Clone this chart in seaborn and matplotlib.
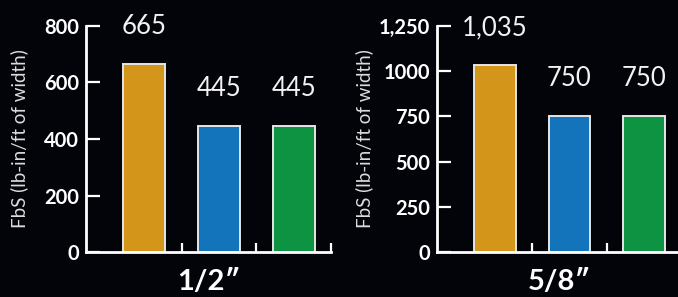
import matplotlib.pyplot as plt
import pandas as pd
import seaborn as sns

# data
products = ['Product A', 'Product B', 'Product C']
bar_colors = ['#D4961A', '#1374BC', '#0E9343']
thickness = ['1/2\u2033', '5/8\u2033']
fbs_half = [665, 445, 445]
fbs_five_eighths = [1035, 750, 750]
yticks_half = [0, 200, 400, 600, 800]
yticks_five_eighths = [0, 250, 500, 750, 1000, 1250]
ytick_labels_five_eighths = ['0', '250', '500', '750', '1000', '1,250']

bg = '#03030A'
sns.set_style('dark')
plt.rcParams['font.family'] = ['Lato', 'DejaVu Sans']


def fbs_panel(ax, values, yticks, ytick_labels, xlabel, label_x):
    df = pd.DataFrame({'product': products, 'fbs': values})
    sns.barplot(data=df, x='product', y='fbs', hue='product', palette=bar_colors, saturation=1,
                width=0.56, edgecolor='#E6E6E6', linewidth=1.4, legend=False, ax=ax)
    ax.set_facecolor(bg)
    ax.set_xlim(-0.78, 2.5)
    ax.set_ylim(0, yticks[-1])
    ax.grid(False)
    for s in ['top', 'right']:
        ax.spines[s].set_visible(False)
    for s in ['left', 'bottom']:
        ax.spines[s].set_color('white')
        ax.spines[s].set_linewidth(2)
    ax.set_yticks(yticks)
    ax.set_yticklabels(ytick_labels, fontsize=14.5, fontweight='bold', color='white')
    ax.tick_params(axis='y', direction='in', length=10, width=1.6, color='white', pad=5, left=True)
    ax.set_xticks([0.5, 1.5, 2.5])
    ax.set_xticklabels([])
    ax.tick_params(axis='x', direction='in', length=6.5, width=1.6, color='white', bottom=True)
    ax.set_xlabel(xlabel, fontsize=21, fontweight='bold', color='white', labelpad=9)
    ax.set_ylabel('FbS (lb-in/ft of width)', fontsize=13.5, color='#DDDDDD')
    ax.yaxis.set_label_coords(label_x, 0.5)
    for i, v in enumerate(values):
        ax.annotate(f'{v:,}', (i, v), xytext=(0, 27), textcoords='offset points',
                    ha='center', va='center', fontsize=18.5, color='#F2F2F2')


fig = plt.figure(figsize=(6.78, 2.97), dpi=100, facecolor=bg)
ax1 = fig.add_axes([0.1268, 0.1515, 0.3614, 0.761])
ax2 = fig.add_axes([0.6445, 0.1515, 0.3600, 0.761])

fbs_panel(ax1, fbs_half, yticks_half, [str(t) for t in yticks_half], thickness[0], -0.237)
fbs_panel(ax2, fbs_five_eighths, yticks_five_eighths, ytick_labels_five_eighths, thickness[1], -0.262)

plt.savefig('out.png', dpi=100, facecolor=bg)
